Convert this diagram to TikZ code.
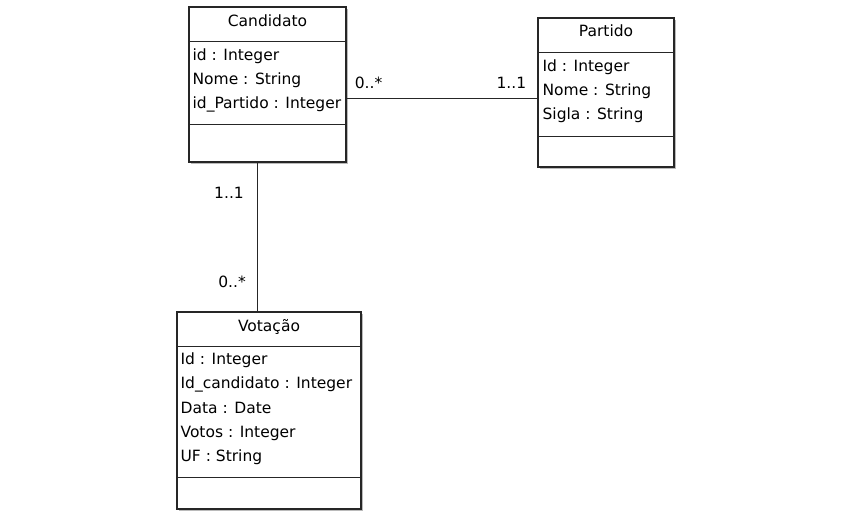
\documentclass[tikz,border=0pt]{standalone}
\usepackage{fontspec}
\setmainfont{DejaVu Sans}
\usetikzlibrary{positioning, shadows}

\begin{document}
\begin{tikzpicture}[x=1pt, y=-1pt, font=\fontsize{15.5}{18}\selectfont,
	classbox/.style={draw=black!85, line width=1.2pt, fill=white, inner sep=0pt,
		drop shadow={shadow xshift=1.5pt, shadow yshift=-1.5pt, fill=black!45, opacity=0.6}},
	divider/.style={draw=black!85, line width=1.2pt},
	title/.style={anchor=base, inner sep=0pt},
	attr/.style={anchor=base west, inner sep=0pt},
	mult/.style={inner sep=0pt},
	link/.style={draw=black!85, line width=1.2pt}]
	\def\head{35pt}

	\useasboundingbox (0,0) rectangle (862,512);

	\node[classbox, minimum width=157pt, minimum height=155pt] (cand) at (267.5,84.5) {};
	\node[classbox, minimum width=136pt, minimum height=149pt] (part) at (606,92.5) {};
	\node[classbox, minimum width=184pt, minimum height=197pt] (vot) at (269,410.5) {};

	\draw[divider] ([yshift=-\head]cand.north west) -- ([yshift=-\head]cand.north east);
	\draw[divider] ([yshift=-118pt]cand.north west) -- ([yshift=-118pt]cand.north east);
	\draw[divider] ([yshift=-\head]part.north west) -- ([yshift=-\head]part.north east);
	\draw[divider] ([yshift=-119pt]part.north west) -- ([yshift=-119pt]part.north east);
	\draw[divider] ([yshift=-\head]vot.north west) -- ([yshift=-\head]vot.north east);
	\draw[divider] ([yshift=-166pt]vot.north west) -- ([yshift=-166pt]vot.north east);

	\node[title] (cand-t) at ([yshift=-20pt]cand.north) {Candidato};
	\node[title] (part-t) at ([yshift=-19pt]part.north) {Partido};
	\node[title] (vot-t) at ([yshift=-20pt]vot.north) {Votação};

	\foreach \t [count=\i] in {id : Integer, Nome : String, id\_Partido : Integer}
		\node[attr] (cand-\i) at ([xshift=4pt, yshift={-(30+24*\i)*1pt}]cand.north west) {\t};
	\foreach \t [count=\i] in {Id : Integer, Nome : String, Sigla : String}
		\node[attr] (part-\i) at ([xshift=5pt, yshift={-(30+24*\i)*1pt}]part.north west) {\t};
	\foreach \t [count=\i] in {Id : Integer, Id\_candidato : Integer, Data : Date, Votos : Integer, UF : String}
		\node[attr] (vot-\i) at ([xshift=4pt, yshift={-(29+24.2*\i)*1pt}]vot.north west) {\t};

	\coordinate (hl) at (0,98.5);
	\coordinate (vl) at (257.5,0);
	\draw[link] (cand.east |- hl) coordinate (hA) -- (part.west |- hl) coordinate (hB);
	\draw[link] (cand.south -| vl) coordinate (vA) -- (vot.north -| vl) coordinate (vB);

	\node[mult, anchor=base west] (m-ca) at ([xshift=8pt, yshift=10pt]hA) {0..*};
	\node[mult, anchor=base east] (m-pa) at ([xshift=-11pt, yshift=10pt]hB) {1..1};
	\node[mult, anchor=base east] (m-cv) at ([xshift=-13.5pt, yshift=-36pt]vA) {1..1};
	\node[mult, anchor=base east] (m-vc) at ([xshift=-11.5pt, yshift=24pt]vB) {0..*};
\end{tikzpicture}
\end{document}
